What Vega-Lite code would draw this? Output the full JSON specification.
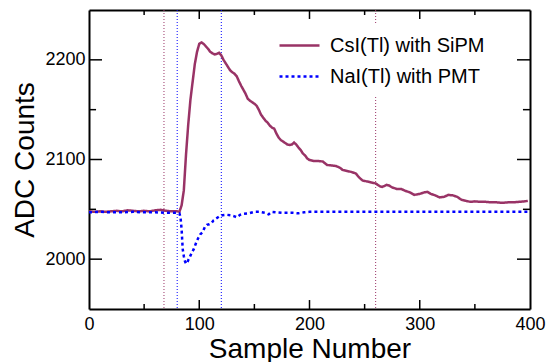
{
  "$schema": "https://vega.github.io/schema/vega-lite/v6.json",
  "width": 441,
  "height": 299,
  "autosize": {"type": "none"},
  "padding": {"left": 89, "top": 10, "right": 16, "bottom": 53},
  "background": "white",
  "config": {"view": {"stroke": null}, "font": "Liberation Sans"},
  "datasets": {
    "vmaroon": [{"v": 68}, {"v": 260}],
    "vblue": [{"v": 80}, {"v": 120}],
    "xmaj": [{"t": 100}, {"t": 200}, {"t": 300}],
    "xmin": [{"t": 50}, {"t": 150}, {"t": 250}, {"t": 350}],
    "ymaj": [{"t": 2000}, {"t": 2100}, {"t": 2200}],
    "ymin": [{"t": 2050}, {"t": 2150}]
  },
  "data": {"values": [
    {"s": "CsI(Tl) with SiPM", "x": 0, "y": 2048},
    {"s": "CsI(Tl) with SiPM", "x": 5, "y": 2047.5},
    {"s": "CsI(Tl) with SiPM", "x": 10, "y": 2048},
    {"s": "CsI(Tl) with SiPM", "x": 15, "y": 2047.5},
    {"s": "CsI(Tl) with SiPM", "x": 20, "y": 2048},
    {"s": "CsI(Tl) with SiPM", "x": 25, "y": 2048.5},
    {"s": "CsI(Tl) with SiPM", "x": 30, "y": 2048},
    {"s": "CsI(Tl) with SiPM", "x": 35, "y": 2049},
    {"s": "CsI(Tl) with SiPM", "x": 40, "y": 2048.5},
    {"s": "CsI(Tl) with SiPM", "x": 45, "y": 2048},
    {"s": "CsI(Tl) with SiPM", "x": 50, "y": 2048.5},
    {"s": "CsI(Tl) with SiPM", "x": 55, "y": 2048},
    {"s": "CsI(Tl) with SiPM", "x": 60, "y": 2049},
    {"s": "CsI(Tl) with SiPM", "x": 65, "y": 2049.5},
    {"s": "CsI(Tl) with SiPM", "x": 70, "y": 2048.5},
    {"s": "CsI(Tl) with SiPM", "x": 75, "y": 2048},
    {"s": "CsI(Tl) with SiPM", "x": 80, "y": 2048},
    {"s": "CsI(Tl) with SiPM", "x": 82, "y": 2047.5},
    {"s": "CsI(Tl) with SiPM", "x": 84, "y": 2054},
    {"s": "CsI(Tl) with SiPM", "x": 86, "y": 2069},
    {"s": "CsI(Tl) with SiPM", "x": 88, "y": 2105},
    {"s": "CsI(Tl) with SiPM", "x": 90, "y": 2135},
    {"s": "CsI(Tl) with SiPM", "x": 92, "y": 2160},
    {"s": "CsI(Tl) with SiPM", "x": 94, "y": 2178},
    {"s": "CsI(Tl) with SiPM", "x": 96, "y": 2196},
    {"s": "CsI(Tl) with SiPM", "x": 98, "y": 2208},
    {"s": "CsI(Tl) with SiPM", "x": 100, "y": 2216},
    {"s": "CsI(Tl) with SiPM", "x": 102, "y": 2217.5},
    {"s": "CsI(Tl) with SiPM", "x": 104, "y": 2216},
    {"s": "CsI(Tl) with SiPM", "x": 106, "y": 2213.5},
    {"s": "CsI(Tl) with SiPM", "x": 108, "y": 2211},
    {"s": "CsI(Tl) with SiPM", "x": 110, "y": 2208},
    {"s": "CsI(Tl) with SiPM", "x": 112, "y": 2206.5},
    {"s": "CsI(Tl) with SiPM", "x": 114, "y": 2205.5},
    {"s": "CsI(Tl) with SiPM", "x": 116, "y": 2206},
    {"s": "CsI(Tl) with SiPM", "x": 118, "y": 2207},
    {"s": "CsI(Tl) with SiPM", "x": 120, "y": 2204.5},
    {"s": "CsI(Tl) with SiPM", "x": 122, "y": 2200},
    {"s": "CsI(Tl) with SiPM", "x": 124, "y": 2196.5},
    {"s": "CsI(Tl) with SiPM", "x": 126, "y": 2193},
    {"s": "CsI(Tl) with SiPM", "x": 128, "y": 2189.5},
    {"s": "CsI(Tl) with SiPM", "x": 130, "y": 2187.5},
    {"s": "CsI(Tl) with SiPM", "x": 132, "y": 2186},
    {"s": "CsI(Tl) with SiPM", "x": 134, "y": 2183.5},
    {"s": "CsI(Tl) with SiPM", "x": 136, "y": 2178.5},
    {"s": "CsI(Tl) with SiPM", "x": 138, "y": 2174},
    {"s": "CsI(Tl) with SiPM", "x": 140, "y": 2170},
    {"s": "CsI(Tl) with SiPM", "x": 142, "y": 2166},
    {"s": "CsI(Tl) with SiPM", "x": 144, "y": 2161},
    {"s": "CsI(Tl) with SiPM", "x": 146, "y": 2159},
    {"s": "CsI(Tl) with SiPM", "x": 148, "y": 2157.5},
    {"s": "CsI(Tl) with SiPM", "x": 150, "y": 2156},
    {"s": "CsI(Tl) with SiPM", "x": 152, "y": 2154},
    {"s": "CsI(Tl) with SiPM", "x": 154, "y": 2150},
    {"s": "CsI(Tl) with SiPM", "x": 156, "y": 2145},
    {"s": "CsI(Tl) with SiPM", "x": 158, "y": 2142},
    {"s": "CsI(Tl) with SiPM", "x": 160, "y": 2139},
    {"s": "CsI(Tl) with SiPM", "x": 162, "y": 2137},
    {"s": "CsI(Tl) with SiPM", "x": 164, "y": 2134},
    {"s": "CsI(Tl) with SiPM", "x": 166, "y": 2132},
    {"s": "CsI(Tl) with SiPM", "x": 168, "y": 2131},
    {"s": "CsI(Tl) with SiPM", "x": 170, "y": 2126},
    {"s": "CsI(Tl) with SiPM", "x": 172, "y": 2122},
    {"s": "CsI(Tl) with SiPM", "x": 174, "y": 2119.5},
    {"s": "CsI(Tl) with SiPM", "x": 176, "y": 2118},
    {"s": "CsI(Tl) with SiPM", "x": 178, "y": 2116.5},
    {"s": "CsI(Tl) with SiPM", "x": 180, "y": 2115},
    {"s": "CsI(Tl) with SiPM", "x": 182, "y": 2114.5},
    {"s": "CsI(Tl) with SiPM", "x": 184, "y": 2115},
    {"s": "CsI(Tl) with SiPM", "x": 186, "y": 2117},
    {"s": "CsI(Tl) with SiPM", "x": 188, "y": 2115},
    {"s": "CsI(Tl) with SiPM", "x": 190, "y": 2112},
    {"s": "CsI(Tl) with SiPM", "x": 192, "y": 2109.5},
    {"s": "CsI(Tl) with SiPM", "x": 194, "y": 2106},
    {"s": "CsI(Tl) with SiPM", "x": 196, "y": 2104},
    {"s": "CsI(Tl) with SiPM", "x": 198, "y": 2101},
    {"s": "CsI(Tl) with SiPM", "x": 200, "y": 2099.5},
    {"s": "CsI(Tl) with SiPM", "x": 204, "y": 2098.5},
    {"s": "CsI(Tl) with SiPM", "x": 208, "y": 2098.5},
    {"s": "CsI(Tl) with SiPM", "x": 212, "y": 2098},
    {"s": "CsI(Tl) with SiPM", "x": 216, "y": 2094.5},
    {"s": "CsI(Tl) with SiPM", "x": 220, "y": 2094},
    {"s": "CsI(Tl) with SiPM", "x": 224, "y": 2093.5},
    {"s": "CsI(Tl) with SiPM", "x": 228, "y": 2091.5},
    {"s": "CsI(Tl) with SiPM", "x": 230, "y": 2089.5},
    {"s": "CsI(Tl) with SiPM", "x": 234, "y": 2088.5},
    {"s": "CsI(Tl) with SiPM", "x": 238, "y": 2087.5},
    {"s": "CsI(Tl) with SiPM", "x": 242, "y": 2086},
    {"s": "CsI(Tl) with SiPM", "x": 245, "y": 2082},
    {"s": "CsI(Tl) with SiPM", "x": 248, "y": 2079},
    {"s": "CsI(Tl) with SiPM", "x": 252, "y": 2078},
    {"s": "CsI(Tl) with SiPM", "x": 256, "y": 2077},
    {"s": "CsI(Tl) with SiPM", "x": 260, "y": 2076},
    {"s": "CsI(Tl) with SiPM", "x": 264, "y": 2073},
    {"s": "CsI(Tl) with SiPM", "x": 266, "y": 2072.5},
    {"s": "CsI(Tl) with SiPM", "x": 270, "y": 2074.5},
    {"s": "CsI(Tl) with SiPM", "x": 272, "y": 2074},
    {"s": "CsI(Tl) with SiPM", "x": 275, "y": 2072},
    {"s": "CsI(Tl) with SiPM", "x": 279, "y": 2070.5},
    {"s": "CsI(Tl) with SiPM", "x": 283, "y": 2070.5},
    {"s": "CsI(Tl) with SiPM", "x": 287, "y": 2068.5},
    {"s": "CsI(Tl) with SiPM", "x": 291, "y": 2067},
    {"s": "CsI(Tl) with SiPM", "x": 295, "y": 2064.5},
    {"s": "CsI(Tl) with SiPM", "x": 300, "y": 2065.5},
    {"s": "CsI(Tl) with SiPM", "x": 304, "y": 2067},
    {"s": "CsI(Tl) with SiPM", "x": 307, "y": 2067.5},
    {"s": "CsI(Tl) with SiPM", "x": 310, "y": 2065.5},
    {"s": "CsI(Tl) with SiPM", "x": 314, "y": 2064},
    {"s": "CsI(Tl) with SiPM", "x": 318, "y": 2062},
    {"s": "CsI(Tl) with SiPM", "x": 322, "y": 2062.5},
    {"s": "CsI(Tl) with SiPM", "x": 326, "y": 2064.5},
    {"s": "CsI(Tl) with SiPM", "x": 330, "y": 2064},
    {"s": "CsI(Tl) with SiPM", "x": 334, "y": 2062.5},
    {"s": "CsI(Tl) with SiPM", "x": 338, "y": 2059.5},
    {"s": "CsI(Tl) with SiPM", "x": 342, "y": 2058.5},
    {"s": "CsI(Tl) with SiPM", "x": 346, "y": 2057.5},
    {"s": "CsI(Tl) with SiPM", "x": 350, "y": 2058},
    {"s": "CsI(Tl) with SiPM", "x": 355, "y": 2057.5},
    {"s": "CsI(Tl) with SiPM", "x": 360, "y": 2057.5},
    {"s": "CsI(Tl) with SiPM", "x": 365, "y": 2057},
    {"s": "CsI(Tl) with SiPM", "x": 370, "y": 2057},
    {"s": "CsI(Tl) with SiPM", "x": 375, "y": 2056.5},
    {"s": "CsI(Tl) with SiPM", "x": 380, "y": 2057},
    {"s": "CsI(Tl) with SiPM", "x": 385, "y": 2057},
    {"s": "CsI(Tl) with SiPM", "x": 390, "y": 2057.5},
    {"s": "CsI(Tl) with SiPM", "x": 395, "y": 2058},
    {"s": "CsI(Tl) with SiPM", "x": 398, "y": 2058.5},
    {"s": "NaI(Tl) with PMT", "x": 0, "y": 2047},
    {"s": "NaI(Tl) with PMT", "x": 10, "y": 2047.5},
    {"s": "NaI(Tl) with PMT", "x": 20, "y": 2047},
    {"s": "NaI(Tl) with PMT", "x": 30, "y": 2047},
    {"s": "NaI(Tl) with PMT", "x": 40, "y": 2047.5},
    {"s": "NaI(Tl) with PMT", "x": 50, "y": 2047},
    {"s": "NaI(Tl) with PMT", "x": 60, "y": 2047},
    {"s": "NaI(Tl) with PMT", "x": 70, "y": 2046.5},
    {"s": "NaI(Tl) with PMT", "x": 80, "y": 2046.5},
    {"s": "NaI(Tl) with PMT", "x": 82, "y": 2046},
    {"s": "NaI(Tl) with PMT", "x": 83, "y": 2042},
    {"s": "NaI(Tl) with PMT", "x": 84, "y": 2030},
    {"s": "NaI(Tl) with PMT", "x": 85, "y": 2010},
    {"s": "NaI(Tl) with PMT", "x": 86, "y": 2003},
    {"s": "NaI(Tl) with PMT", "x": 87, "y": 1998},
    {"s": "NaI(Tl) with PMT", "x": 88, "y": 1995.5},
    {"s": "NaI(Tl) with PMT", "x": 89, "y": 1996},
    {"s": "NaI(Tl) with PMT", "x": 90, "y": 1999},
    {"s": "NaI(Tl) with PMT", "x": 91, "y": 2001},
    {"s": "NaI(Tl) with PMT", "x": 93, "y": 2006},
    {"s": "NaI(Tl) with PMT", "x": 95, "y": 2010},
    {"s": "NaI(Tl) with PMT", "x": 97, "y": 2016},
    {"s": "NaI(Tl) with PMT", "x": 99, "y": 2021},
    {"s": "NaI(Tl) with PMT", "x": 101, "y": 2025},
    {"s": "NaI(Tl) with PMT", "x": 103, "y": 2027},
    {"s": "NaI(Tl) with PMT", "x": 105, "y": 2032},
    {"s": "NaI(Tl) with PMT", "x": 107, "y": 2034.5},
    {"s": "NaI(Tl) with PMT", "x": 109, "y": 2035},
    {"s": "NaI(Tl) with PMT", "x": 111, "y": 2036},
    {"s": "NaI(Tl) with PMT", "x": 113, "y": 2039},
    {"s": "NaI(Tl) with PMT", "x": 115, "y": 2040.5},
    {"s": "NaI(Tl) with PMT", "x": 117, "y": 2042},
    {"s": "NaI(Tl) with PMT", "x": 119, "y": 2043.5},
    {"s": "NaI(Tl) with PMT", "x": 121, "y": 2044},
    {"s": "NaI(Tl) with PMT", "x": 125, "y": 2044.5},
    {"s": "NaI(Tl) with PMT", "x": 129, "y": 2044},
    {"s": "NaI(Tl) with PMT", "x": 132, "y": 2043},
    {"s": "NaI(Tl) with PMT", "x": 134, "y": 2042},
    {"s": "NaI(Tl) with PMT", "x": 137, "y": 2044.5},
    {"s": "NaI(Tl) with PMT", "x": 140, "y": 2045.5},
    {"s": "NaI(Tl) with PMT", "x": 145, "y": 2046},
    {"s": "NaI(Tl) with PMT", "x": 150, "y": 2047.5},
    {"s": "NaI(Tl) with PMT", "x": 155, "y": 2047.5},
    {"s": "NaI(Tl) with PMT", "x": 160, "y": 2046.5},
    {"s": "NaI(Tl) with PMT", "x": 163, "y": 2045},
    {"s": "NaI(Tl) with PMT", "x": 166, "y": 2047.5},
    {"s": "NaI(Tl) with PMT", "x": 170, "y": 2047},
    {"s": "NaI(Tl) with PMT", "x": 175, "y": 2046.5},
    {"s": "NaI(Tl) with PMT", "x": 180, "y": 2046.5},
    {"s": "NaI(Tl) with PMT", "x": 185, "y": 2046.5},
    {"s": "NaI(Tl) with PMT", "x": 190, "y": 2046},
    {"s": "NaI(Tl) with PMT", "x": 195, "y": 2047},
    {"s": "NaI(Tl) with PMT", "x": 200, "y": 2047.5},
    {"s": "NaI(Tl) with PMT", "x": 250, "y": 2047.5},
    {"s": "NaI(Tl) with PMT", "x": 300, "y": 2047.5},
    {"s": "NaI(Tl) with PMT", "x": 350, "y": 2047.5},
    {"s": "NaI(Tl) with PMT", "x": 400, "y": 2047.5}
  ]},
  "layer": [
    {
      "data": {"name": "vmaroon"},
      "mark": {"type": "rule", "color": "#993366", "strokeWidth": 1, "strokeDash": [1, 2]},
      "encoding": {
        "x": {"field": "v", "type": "quantitative", "scale": {"domain": [0, 400], "nice": false, "zero": false}, "axis": null}
      }
    },
    {
      "data": {"name": "vblue"},
      "mark": {"type": "rule", "color": "#0000ff", "strokeWidth": 1, "strokeDash": [1, 2]},
      "encoding": {
        "x": {"field": "v", "type": "quantitative", "scale": {"domain": [0, 400], "nice": false, "zero": false}, "axis": null}
      }
    },
    {
      "data": {"name": "xmaj"},
      "mark": {"type": "rule", "color": "black", "strokeWidth": 1.5},
      "encoding": {
        "x": {"field": "t", "type": "quantitative", "scale": {"domain": [0, 400], "nice": false, "zero": false}, "axis": null},
        "y": {"datum": 1950, "type": "quantitative", "scale": {"domain": [1950, 2250], "nice": false, "zero": false}, "axis": null},
        "y2": {"datum": 1959}
      }
    },
    {
      "data": {"name": "xmin"},
      "mark": {"type": "rule", "color": "black", "strokeWidth": 1.5},
      "encoding": {
        "x": {"field": "t", "type": "quantitative", "scale": {"domain": [0, 400], "nice": false, "zero": false}, "axis": null},
        "y": {"datum": 1950, "type": "quantitative", "scale": {"domain": [1950, 2250], "nice": false, "zero": false}, "axis": null},
        "y2": {"datum": 1955}
      }
    },
    {
      "data": {"name": "xmaj"},
      "mark": {"type": "rule", "color": "black", "strokeWidth": 1.5},
      "encoding": {
        "x": {"field": "t", "type": "quantitative", "scale": {"domain": [0, 400], "nice": false, "zero": false}, "axis": null},
        "y": {"datum": 2250, "type": "quantitative", "scale": {"domain": [1950, 2250], "nice": false, "zero": false}, "axis": null},
        "y2": {"datum": 2241}
      }
    },
    {
      "data": {"name": "xmin"},
      "mark": {"type": "rule", "color": "black", "strokeWidth": 1.5},
      "encoding": {
        "x": {"field": "t", "type": "quantitative", "scale": {"domain": [0, 400], "nice": false, "zero": false}, "axis": null},
        "y": {"datum": 2250, "type": "quantitative", "scale": {"domain": [1950, 2250], "nice": false, "zero": false}, "axis": null},
        "y2": {"datum": 2245}
      }
    },
    {
      "data": {"name": "ymaj"},
      "mark": {"type": "rule", "color": "black", "strokeWidth": 1.5},
      "encoding": {
        "y": {"field": "t", "type": "quantitative", "scale": {"domain": [1950, 2250], "nice": false, "zero": false}, "axis": null},
        "x": {"datum": 0, "type": "quantitative", "scale": {"domain": [0, 400], "nice": false, "zero": false}, "axis": null},
        "x2": {"datum": 11.8}
      }
    },
    {
      "data": {"name": "ymin"},
      "mark": {"type": "rule", "color": "black", "strokeWidth": 1.5},
      "encoding": {
        "y": {"field": "t", "type": "quantitative", "scale": {"domain": [1950, 2250], "nice": false, "zero": false}, "axis": null},
        "x": {"datum": 0, "type": "quantitative", "scale": {"domain": [0, 400], "nice": false, "zero": false}, "axis": null},
        "x2": {"datum": 6.4}
      }
    },
    {
      "data": {"name": "ymaj"},
      "mark": {"type": "rule", "color": "black", "strokeWidth": 1.5},
      "encoding": {
        "y": {"field": "t", "type": "quantitative", "scale": {"domain": [1950, 2250], "nice": false, "zero": false}, "axis": null},
        "x": {"datum": 400, "type": "quantitative", "scale": {"domain": [0, 400], "nice": false, "zero": false}, "axis": null},
        "x2": {"datum": 388.2}
      }
    },
    {
      "data": {"name": "ymin"},
      "mark": {"type": "rule", "color": "black", "strokeWidth": 1.5},
      "encoding": {
        "y": {"field": "t", "type": "quantitative", "scale": {"domain": [1950, 2250], "nice": false, "zero": false}, "axis": null},
        "x": {"datum": 400, "type": "quantitative", "scale": {"domain": [0, 400], "nice": false, "zero": false}, "axis": null},
        "x2": {"datum": 393.6}
      }
    },
    {
      "mark": {"type": "line", "strokeWidth": 2.5},
      "encoding": {
        "x": {"field": "x", "type": "quantitative", "scale": {"domain": [0, 400], "nice": false, "zero": false},
          "axis": {
            "orient": "bottom", "values": [0, 100, 200, 300, 400], "ticks": false,
            "labelPadding": 6, "labelFlush": false, "labelOverlap": false,
            "labelFontSize": 18, "labelColor": "black",
            "title": "Sample Number", "titleFontSize": 28, "titleFontWeight": "normal", "titleColor": "black",
            "titleBaseline": "alphabetic", "titleY": 48,
            "domainColor": "black", "domainWidth": 2, "grid": false
          }},
        "y": {"field": "y", "type": "quantitative", "scale": {"domain": [1950, 2250], "nice": false, "zero": false},
          "axis": {
            "orient": "left", "values": [2000, 2100, 2200], "format": "d", "ticks": false,
            "labelPadding": 4, "labelFlush": false, "labelOverlap": false,
            "labelFontSize": 18, "labelColor": "black",
            "title": "ADC Counts", "titleFontSize": 28, "titleFontWeight": "normal", "titleColor": "black",
            "titleAngle": -90, "titleBaseline": "alphabetic", "titleX": -56, "titleAnchor": "middle",
            "domainColor": "black", "domainWidth": 2, "grid": false
          }},
        "color": {"field": "s", "type": "nominal",
          "scale": {"domain": ["CsI(Tl) with SiPM", "NaI(Tl) with PMT"], "range": ["#993366", "#0000ff"]},
          "legend": {
            "orient": "none", "legendX": 189, "legendY": 14, "title": null,
            "symbolType": "M-2,0L2,0", "symbolSize": 400, "symbolStrokeWidth": 2.5,
            "labelFontSize": 20, "labelColor": "black", "labelOffset": 19, "labelLimit": 300,
            "rowPadding": 9, "padding": 10, "fillColor": "white", "zindex": 1
          }},
        "strokeDash": {"field": "s", "type": "nominal",
          "scale": {"domain": ["CsI(Tl) with SiPM", "NaI(Tl) with PMT"], "range": [[1, 0], [3, 3]]},
          "legend": {
            "orient": "none", "legendX": 189, "legendY": 14, "title": null,
            "symbolType": "M-2,0L2,0", "symbolSize": 400, "symbolStrokeWidth": 2.5,
            "labelFontSize": 20, "labelColor": "black", "labelOffset": 19, "labelLimit": 300,
            "rowPadding": 9, "padding": 10, "fillColor": "white", "zindex": 1
          }}
      }
    },
    {
      "mark": {"type": "point", "opacity": 0},
      "encoding": {
        "x": {"field": "x", "type": "quantitative", "scale": {"domain": [0, 400], "nice": false, "zero": false},
          "axis": {
            "orient": "top", "values": [0, 400], "labels": false, "title": null, "ticks": false,
            "domainColor": "black", "domainWidth": 2, "grid": false
          }},
        "y": {"field": "y", "type": "quantitative", "scale": {"domain": [1950, 2250], "nice": false, "zero": false},
          "axis": {
            "orient": "right", "values": [2000, 2200], "labels": false, "title": null, "ticks": false,
            "domainColor": "black", "domainWidth": 2, "grid": false
          }}
      }
    }
  ],
  "resolve": {"axis": {"x": "independent", "y": "independent"}}
}
